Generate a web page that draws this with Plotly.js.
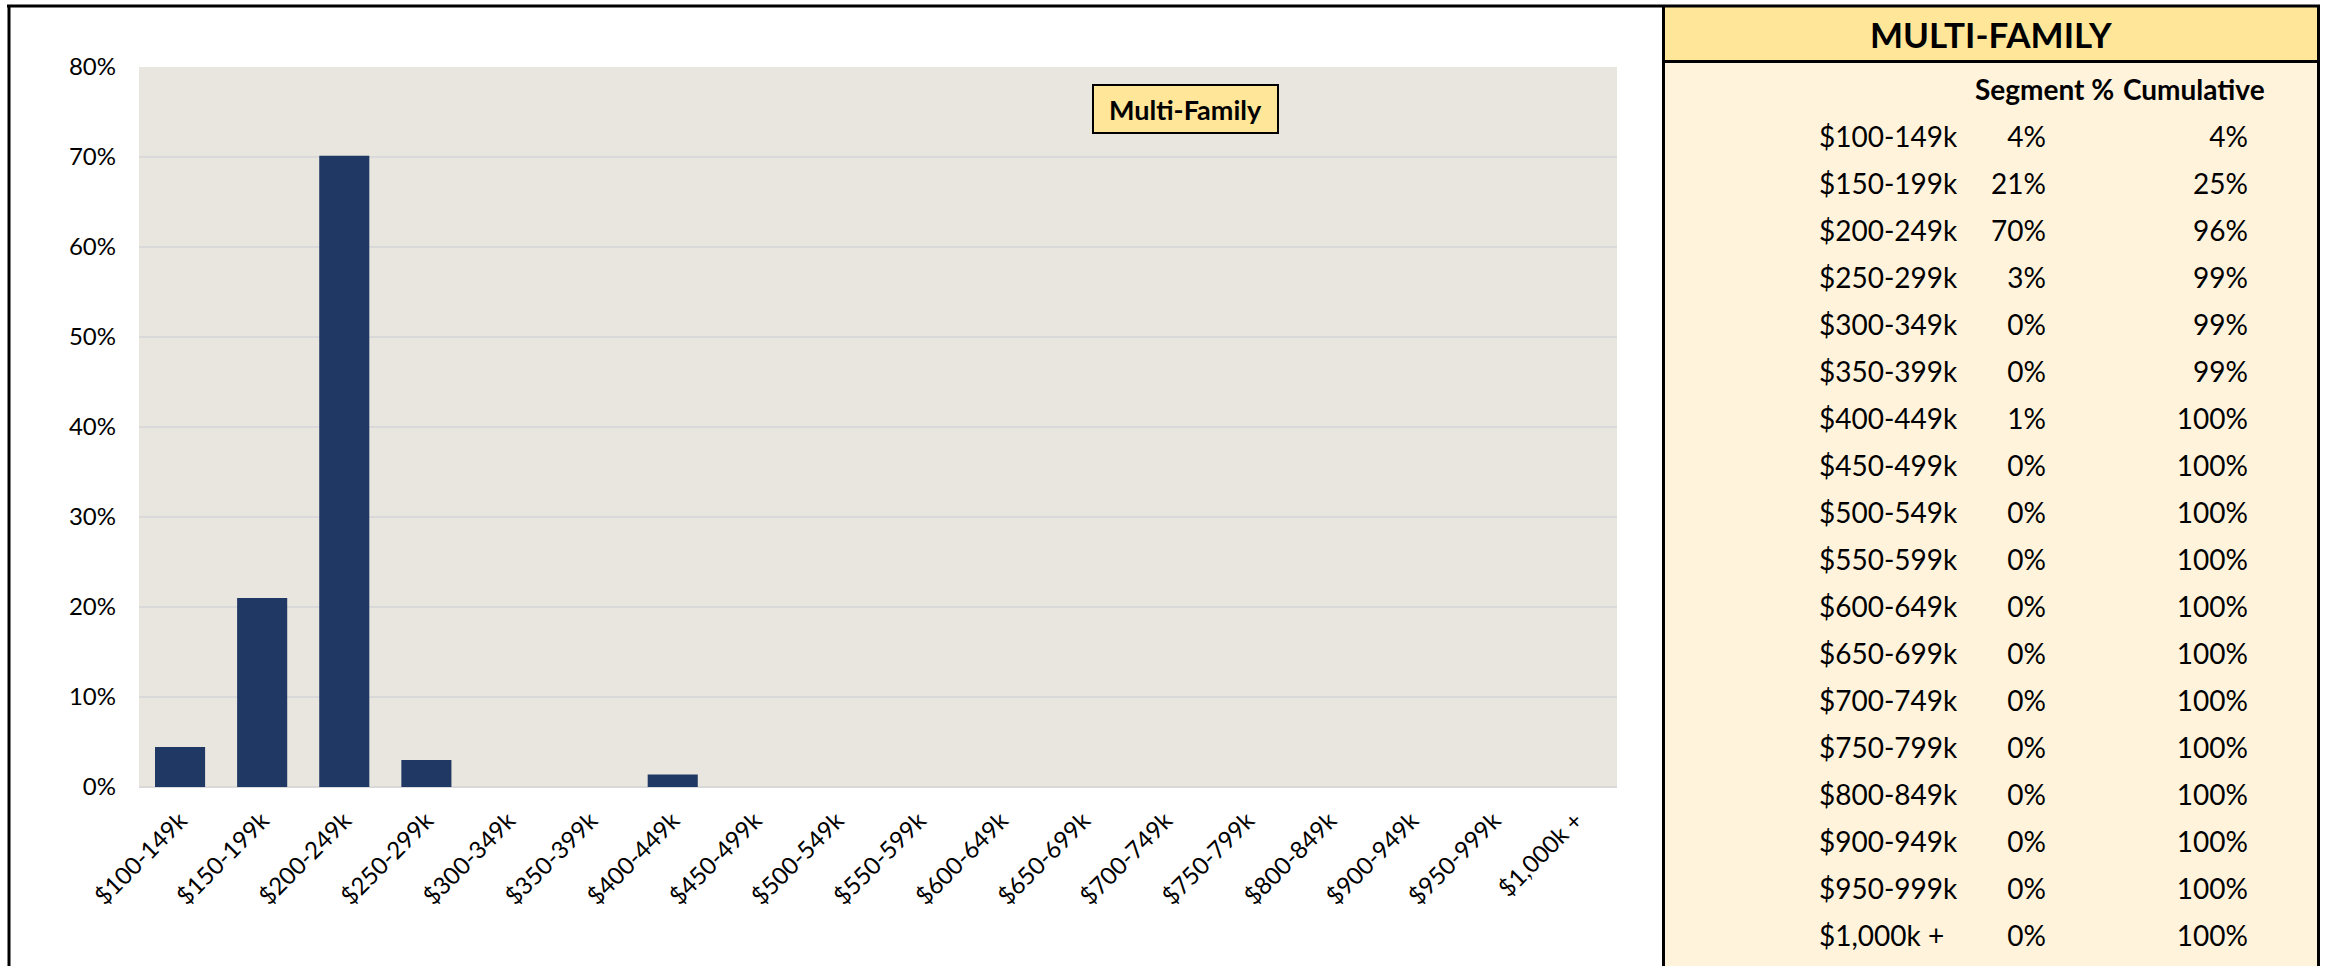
<!DOCTYPE html>
<html>
<head>
<meta charset="utf-8">
<script src="https://cdn.plot.ly/plotly-3.0.1.min.js"></script>
<style>
  html, body { margin: 0; padding: 0; background: #ffffff; }
  #chart { width: 2326px; height: 966px; }
</style>
</head>
<body>
<div id="chart"></div>
<script>
// Price brackets (x categories and table rows)
const brackets = [
  '$100-149k', '$150-199k', '$200-249k', '$250-299k', '$300-349k', '$350-399k',
  '$400-449k', '$450-499k', '$500-549k', '$550-599k', '$600-649k', '$650-699k',
  '$700-749k', '$750-799k', '$800-849k', '$900-949k', '$950-999k', '$1,000k +'
];
// Share of sales in each bracket, percent
const segmentPct = [4.45, 21.0, 70.15, 3.0, 0, 0, 1.4, 0, 0, 0, 0, 0, 0, 0, 0, 0, 0, 0];
const seriesName = 'Multi-Family';
const panelTitle = 'MULTI-FAMILY';
const columnHeaders = ['Segment %', 'Cumulative'];
const yTickVals = [0, 10, 20, 30, 40, 50, 60, 70, 80];
const yTickText = ['0%', '10%', '20%', '30%', '40%', '50%', '60%', '70%', '80%'];

// Running total for the cumulative column
const cumulativePct = [];
segmentPct.reduce((acc, v) => { const s = acc + v; cumulativePct.push(s); return s; }, 0);
const fmtPct = v => Math.round(v) + '%';

const W = 2326, H = 966;
const px = v => v / W;
const py = v => 1 - v / H;

const FONT = 'Lato, "Open Sans", sans-serif';
const NAVY = '#203864';
const PLOT_BG = '#E8E6DF';
const GRID = '#D9D9D9';
const GOLD = '#FFE699';
const CREAM = '#FFF3DC';

// Plot area and side-table geometry (pixels)
const plotL = 139, plotR = 1617, plotT = 67, plotB = 787;
const panelL = 1663.5, panelR = 2318.5, panelHeadB = 61.5;
const tableL = 1665, tableR = 2317;
const colLabelX = 1819 - tableL, colSegX = 2046 - tableL, colCumX = 2248 - tableL;
const rowTop = 116, rowBottom = 962;

const bars = {
  type: 'bar',
  name: seriesName,
  x: brackets,
  y: segmentPct,
  marker: { color: NAVY },
  showlegend: false,
  hovertemplate: '%{x}: %{y:.1f}%<extra></extra>'
};

const tableFont = { family: FONT, size: 28, color: '#000000' };
const textColumn = (xPos, texts, position) => ({
  type: 'scatter', mode: 'text', xaxis: 'x2', yaxis: 'y2',
  x: brackets.map(() => xPos), y: brackets, text: texts,
  textposition: position, textfont: tableFont,
  showlegend: false, hoverinfo: 'skip', cliponaxis: false
});
const labelCol = textColumn(colLabelX, brackets, 'middle right');
const segCol = textColumn(colSegX, segmentPct.map(fmtPct), 'middle left');
const cumCol = textColumn(colCumX, cumulativePct.map(fmtPct), 'middle left');

const line = (x0, y0, x1, y1, w) => ({
  type: 'line', xref: 'paper', yref: 'paper',
  x0: px(x0), y0: py(y0), x1: px(x1), y1: py(y1),
  line: { color: '#000000', width: w }, layer: 'above'
});

const layout = {
  width: W, height: H,
  margin: { l: 0, r: 0, t: 0, b: 0, pad: 0 },
  paper_bgcolor: '#FFFFFF',
  plot_bgcolor: 'rgba(0,0,0,0)',
  bargap: 0.39,
  font: { family: FONT, color: '#000000' },
  xaxis: {
    domain: [px(plotL), px(plotR)],
    type: 'category',
    tickangle: -45,
    tickfont: { family: FONT, size: 24, color: '#000000' },
    ticks: '', showgrid: false, showline: false, zeroline: false,
    ticklabelstandoff: 14,
    fixedrange: true
  },
  yaxis: {
    domain: [py(plotB), py(plotT)],
    range: [0, 80],
    tickvals: yTickVals, ticktext: yTickText,
    tickfont: { family: FONT, size: 24, color: '#000000' },
    ticks: '', showline: false,
    showgrid: true, gridcolor: GRID, gridwidth: 2,
    zeroline: true, zerolinecolor: GRID, zerolinewidth: 2,
    ticklabelstandoff: 22,
    fixedrange: true
  },
  xaxis2: {
    domain: [px(tableL), px(tableR)],
    range: [0, tableR - tableL],
    anchor: 'y2', visible: false, fixedrange: true
  },
  yaxis2: {
    domain: [py(rowBottom), py(rowTop)],
    type: 'category',
    categoryorder: 'array', categoryarray: brackets,
    range: [brackets.length - 0.5, -0.5],
    anchor: 'x2', visible: false, fixedrange: true
  },
  shapes: [
    // chart area background
    { type: 'rect', xref: 'paper', yref: 'paper',
      x0: px(plotL), x1: px(plotR), y0: py(plotB + 1), y1: py(plotT),
      fillcolor: PLOT_BG, line: { width: 0 }, layer: 'below' },
    // side panel body and header band
    { type: 'rect', xref: 'paper', yref: 'paper',
      x0: px(panelL), x1: px(panelR), y0: py(990), y1: py(6),
      fillcolor: CREAM, line: { width: 0 }, layer: 'below' },
    { type: 'rect', xref: 'paper', yref: 'paper',
      x0: px(panelL), x1: px(panelR), y0: py(panelHeadB), y1: py(6),
      fillcolor: GOLD, line: { width: 0 }, layer: 'below' },
    // frame lines
    line(7, 6, 2320, 6, 3),
    line(9, 5, 9, 990, 3),
    line(panelL, 5, panelL, 990, 3),
    line(panelR, 5, panelR, 990, 3),
    line(panelL, panelHeadB, panelR, panelHeadB, 3)
  ],
  annotations: [
    { xref: 'paper', yref: 'paper', x: px(1185.5), y: py(109),
      xanchor: 'center', yanchor: 'middle', showarrow: false,
      text: '<b>' + seriesName + '</b>',
      font: { family: FONT, size: 27, color: '#000000' },
      bgcolor: GOLD, bordercolor: '#000000', borderwidth: 2, borderpad: 0,
      width: 183, height: 46, align: 'center', valign: 'middle' },
    { xref: 'paper', yref: 'paper', x: px((panelL + panelR) / 2), y: py(34),
      xanchor: 'center', yanchor: 'middle', showarrow: false,
      text: '<b>' + panelTitle + '</b>',
      font: { family: FONT, size: 35, color: '#000000' } },
    { xref: 'paper', yref: 'paper', x: px(2116), y: py(89),
      xanchor: 'right', yanchor: 'middle', showarrow: false,
      text: '<b>' + columnHeaders[0] + '</b>',
      font: { family: FONT, size: 28, color: '#000000' } },
    { xref: 'paper', yref: 'paper', x: px(2121), y: py(89),
      xanchor: 'left', yanchor: 'middle', showarrow: false,
      text: '<b>' + columnHeaders[1] + '</b>',
      font: { family: FONT, size: 28, color: '#000000' } }
  ]
};

Plotly.newPlot('chart', [bars, labelCol, segCol, cumCol], layout,
  { displayModeBar: false, staticPlot: true });
</script>
</body>
</html>
